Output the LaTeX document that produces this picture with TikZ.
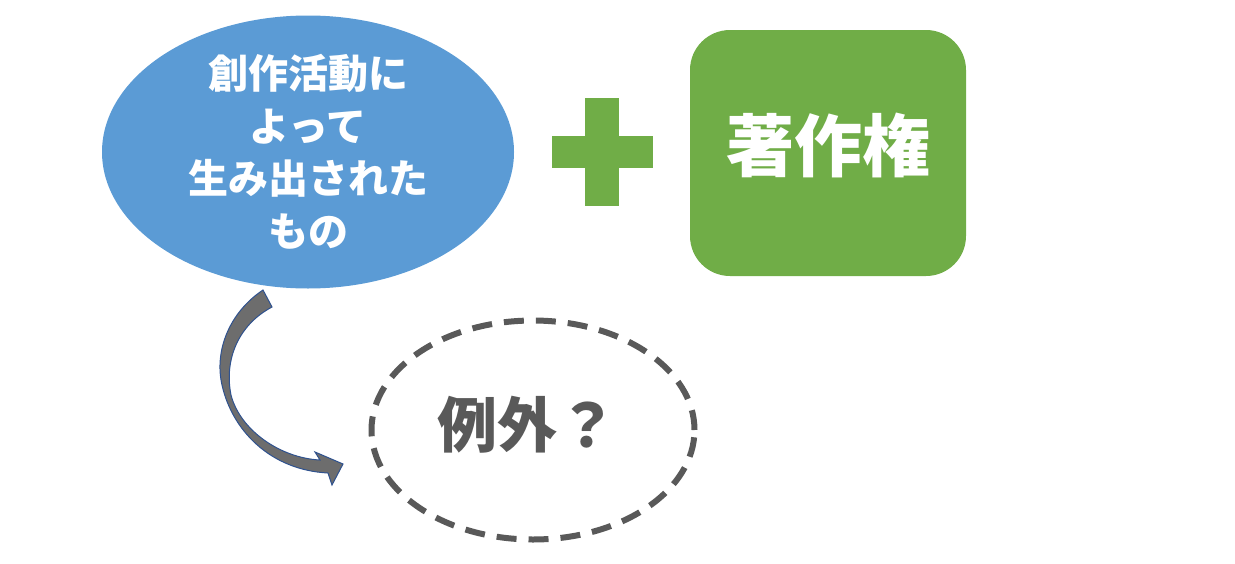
\documentclass[tikz,border=0pt]{standalone}
\usepackage{fontspec}
\newfontfamily\jp{Noto Sans CJK JP}
\usetikzlibrary{shapes.geometric}
\definecolor{blueFill}{HTML}{5B9BD5}
\definecolor{greenFill}{HTML}{70AD47}
\definecolor{darkGray}{HTML}{595959}
\definecolor{arrowGray}{HTML}{6D6D6D}
\definecolor{arrowLine}{HTML}{2F528F}
\begin{document}
\begin{tikzpicture}[x=1pt, y=-1pt,
    made/.style={ellipse, fill=blueFill, minimum width=412, minimum height=273, inner xsep=0, inner ysep=-12, text=white, align=center, font=\jp\bfseries\fontsize{40}{52.5}\selectfont},
    right/.style={rectangle, rounded corners=40, fill=greenFill, minimum width=276, minimum height=246, text=white, font=\jp\bfseries\fontsize{68}{80}\selectfont},
    exc/.style={ellipse, draw=darkGray, line width=6, dash pattern=on 20 off 12, minimum width=323, minimum height=219, inner sep=0, text=darkGray, font=\jp\bfseries\fontsize{60}{70}\selectfont}]
    \useasboundingbox (0,0) rectangle (1235,563);

    \node[made] at (308, 152) (work) {創作活動に\\よって\\生み出された\\もの};
    \node[right] at (828, 153) (copy) {};
    \node[text=white, font=\jp\bfseries\fontsize{68}{80}\selectfont] at (828, 145) (copytext) {著作権};
    \node[exc] at (533, 430) (except) {};
    \node[text=darkGray, font=\jp\bfseries\fontsize{60}{70}\selectfont] at (527, 425) (excepttext) {例外？};

    \fill[greenFill] (585, 98) rectangle (619, 206);
    \fill[greenFill] (552, 136) rectangle (653, 168);

    \filldraw[fill=arrowGray, draw=arrowLine, line width=1]
        (263, 290) .. controls (230, 312) and (214, 350) .. (222, 385)
        .. controls (232, 430) and (270, 470) .. (328, 473)
        -- (332, 485) -- (343, 464) -- (315, 452) -- (320, 460)
        .. controls (280, 458) and (240, 430) .. (231, 395)
        .. controls (224, 360) and (238, 325) .. (272, 307) -- cycle;
\end{tikzpicture}
\end{document}
